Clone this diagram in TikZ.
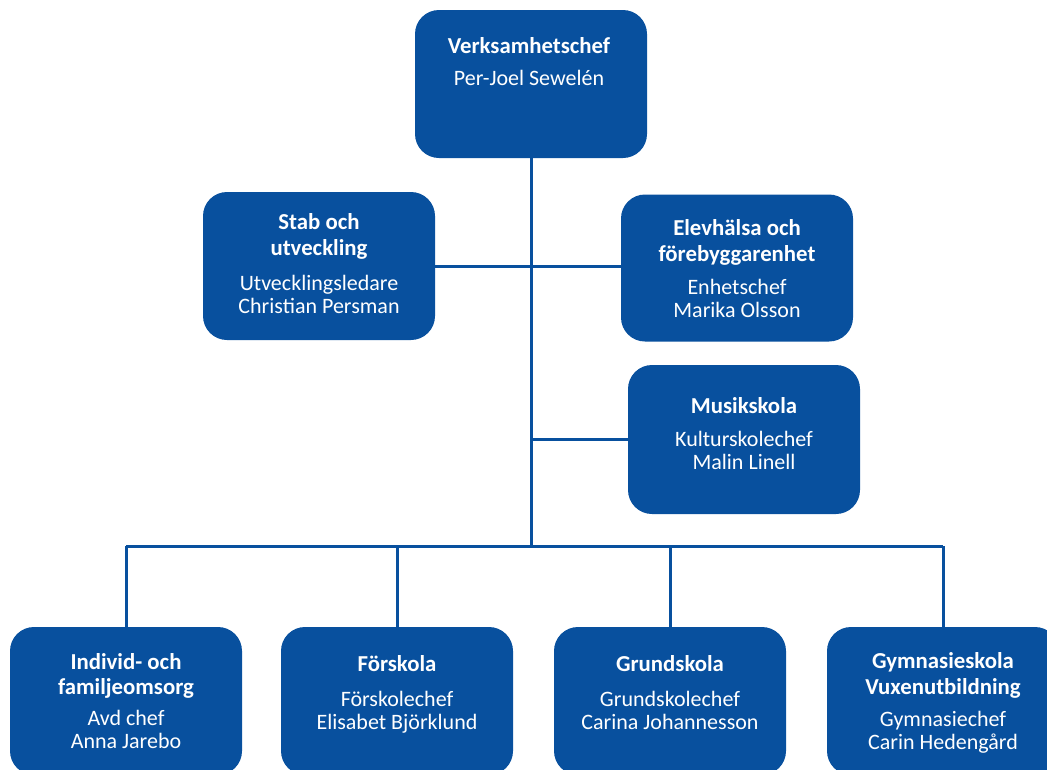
\documentclass[tikz,border=0pt]{standalone}
\usepackage{fontspec}
\setmainfont{Carlito}
\definecolor{orgblue}{RGB}{8,80,158}
\tikzset{
  orgbox/.style={fill=orgblue, rounded corners=24pt, minimum width=232pt, minimum height=148pt, inner sep=0pt, draw=none},
  orgtext/.style={text=white, align=center, anchor=north, inner sep=0pt, font=\fontsize{22}{23}\selectfont},
  conn/.style={draw=orgblue, line width=3pt}
}
\newcommand{\ttl}[1]{{\fontsize{22.8}{23}\selectfont\bfseries #1}}
\begin{document}
\begin{tikzpicture}[x=1pt,y=-1pt]
\useasboundingbox (0,0) rectangle (1047,769);
\coordinate (hub) at (531,546);
% boxes
\node[orgbox] (top) at (531,84) {};
\node[orgbox] (stab) at (319,266) {};
\node[orgbox, minimum height=147pt] (elev) at (737,268) {};
\node[orgbox, minimum height=149pt] (musik) at (744,439.5) {};
\node[orgbox] (indiv) at (126,701) {};
\node[orgbox] (forsk) at (397,701) {};
\node[orgbox] (grund) at (670,701) {};
\node[orgbox] (gymn) at (943,701) {};
% connectors
\draw[conn] (top.south) -- (top.south |- hub);
\draw[conn] (stab.east) -- (stab.east -| elev.west);
\draw[conn] (musik.west) -- (musik.west -| top.south);
\draw[conn] (indiv.north |- hub) -- (gymn.north |- hub);
\foreach \b in {indiv,forsk,grund,gymn}{
  \draw[conn] (\b.north) -- (\b.north |- hub);
}
% texts
\node[orgtext] (ttop) at (529,37) {\ttl{Verksamhetschef}\\[9pt]Per-Joel Sewelén};
\node[orgtext] (tstab) at (319,213) {\ttl{Stab och}\\[3pt]\ttl{utveckling}\\[12pt]Utvecklingsledare\\Christian Persman};
\node[orgtext] (telev) at (737,219) {\ttl{Elevhälsa och}\\[3pt]\ttl{förebyggarenhet}\\[10pt]Enhetschef\\Marika Olsson};
\node[orgtext] (tmusik) at (744,397) {\ttl{Musikskola}\\[10pt]Kulturskolechef\\Malin Linell};
\node[orgtext] (tindiv) at (126,653) {\ttl{Individ- och}\\[2.5pt]\ttl{familjeomsorg}\\[8pt]Avd chef\\Anna Jarebo};
\node[orgtext] (tforsk) at (397,655) {\ttl{Förskola}\\[12pt]Förskolechef\\Elisabet Björklund};
\node[orgtext] (tgrund) at (670,655) {\ttl{Grundskola}\\[12pt]Grundskolechef\\Carina Johannesson};
\node[orgtext] (tgymn) at (943,652) {\ttl{Gymnasieskola}\\[3pt]\ttl{Vuxenutbildning}\\[9pt]Gymnasiechef\\Carin Hedengård};
\end{tikzpicture}
\end{document}
